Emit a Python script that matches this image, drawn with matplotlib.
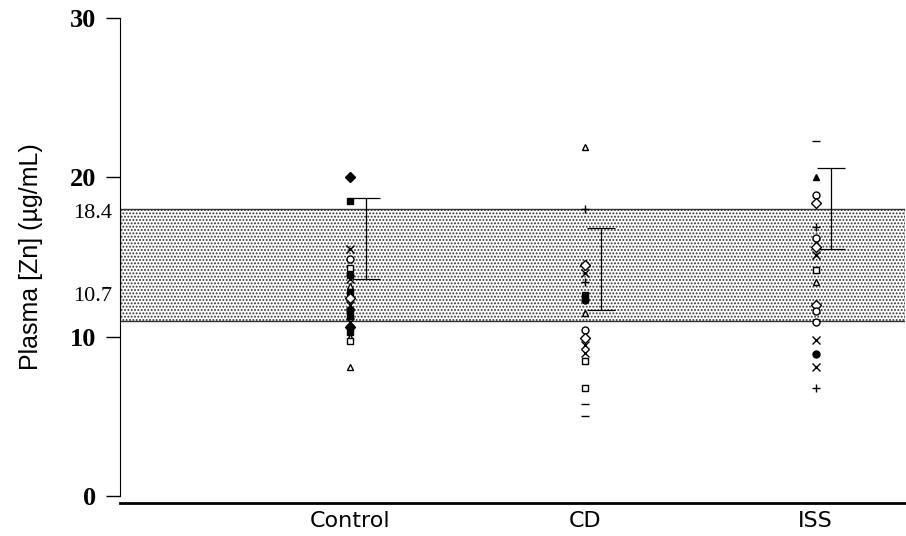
import matplotlib
matplotlib.use("Agg")
import matplotlib.pyplot as plt

plt.rcParams['hatch.linewidth'] = 0.9
plt.rcParams['hatch.color'] = '#222222'

# groups and where they sit on the x axis
groups = ["Control", "CD", "ISS"]
xpos = [1.0, 2.0, 2.98]

# individual plasma zinc values (ug/mL) with their marker symbols
control_vals = [20.1, 20.0, 18.5, 15.5, 14.9, 14.3, 13.9, 13.6, 13.2, 12.8,
                12.4, 12.0, 11.7, 11.3, 10.9, 10.6, 10.3, 10.0, 9.7, 8.1]
control_marks = ["^f", "Df", "sf", "x", "o", "s", "sf", "x", "^", "sf",
                 "D", "x", "of", "sf", "x", "Df", "sf", "^", "s", "^"]

cd_vals = [21.9, 18.0, 14.5, 14.0, 13.4, 12.6, 12.3, 11.5, 10.4, 9.9,
           9.5, 9.0, 8.5, 6.8, 5.8, 5.0]
cd_marks = ["^", "+", "D", "x", "+", "sf", "of", "^", "o", "D",
            "x", "x", "s", "s", "_", "_"]

iss_vals = [22.3, 20.0, 18.9, 18.4, 16.9, 16.2, 15.6, 15.1, 14.2, 13.4,
            12.0, 11.6, 10.9, 9.8, 8.9, 8.1, 6.8]
iss_marks = ["_", "^f", "o", "D", "+", "o", "D", "x", "s", "^",
             "D", "o", "o", "x", "of", "x", "+"]

# mean +/- SD bars
bar_top = [18.7, 16.8, 20.6]
bar_bot = [13.6, 11.7, 15.5]

# reference range band
band_lo = 11.0
band_hi = 18.0
band_labels = ["18.4", "10.7"]

fig = plt.figure(figsize=(9.06, 5.36), dpi=100)
ax = fig.add_axes([120 / 906, 1 - 496 / 536, 785 / 906, 478 / 536])
ax.set_ylim(0, 30)
ax.set_xlim(0.02, 3.36)

ax.axhspan(band_lo, band_hi, facecolor='white', edgecolor='#333333',
           hatch='.....', linewidth=1.0, zorder=1)

for x, vals, marks in zip(xpos, [control_vals, cd_vals, iss_vals],
                          [control_marks, cd_marks, iss_marks]):
    for v, m in zip(vals, marks):
        sym = m[0]
        filled = m.endswith("f")
        ax.plot(x, v, marker=sym, markersize=5 if sym not in "x+_" else 6,
                markerfacecolor='black' if filled else 'white',
                markeredgecolor='black', markeredgewidth=1.0,
                linestyle='none', zorder=3)

for x, t, b in zip(xpos, bar_top, bar_bot):
    mid = (t + b) / 2
    ax.errorbar(x + 0.065, mid, yerr=(t - b) / 2, fmt='none', ecolor='black',
                elinewidth=0.9, capsize=10, capthick=0.9, zorder=2)

ax.set_yticks([0, 10, 20, 30])
ax.set_yticklabels(["0", "10", "20", "30"])
ax.tick_params(axis='y', length=10, width=1.0, pad=7, labelsize=19)
for lbl in ax.get_yticklabels():
    lbl.set_family('Liberation Serif')
    lbl.set_fontweight('bold')
ax.set_xticks(xpos)
ax.set_xticklabels(groups)
ax.tick_params(axis='x', length=0, pad=6, labelsize=16)
for lbl in ax.get_xticklabels():
    lbl.set_family('Liberation Sans')

for lbl, y in zip(band_labels, [band_hi, band_lo]):
    ax.text(-0.015, y + (-0.25 if y == band_hi else 1.5), lbl,
            ha='right', va='center', family='Liberation Serif', fontsize=16,
            transform=ax.transData, clip_on=False)

ax.spines['top'].set_visible(False)
ax.spines['right'].set_visible(False)
ax.spines['left'].set_bounds(0, 30)
ax.spines['bottom'].set_position(('outward', 5))
ax.spines['bottom'].set_linewidth(2)

ax.set_ylabel("Plasma [Zn] (µg/mL)", family='Liberation Sans', fontsize=18)
ax.yaxis.set_label_coords(-0.098, 0.5)
ax.yaxis.label.set_horizontalalignment('center')

fig.savefig("out.png", dpi=100)
